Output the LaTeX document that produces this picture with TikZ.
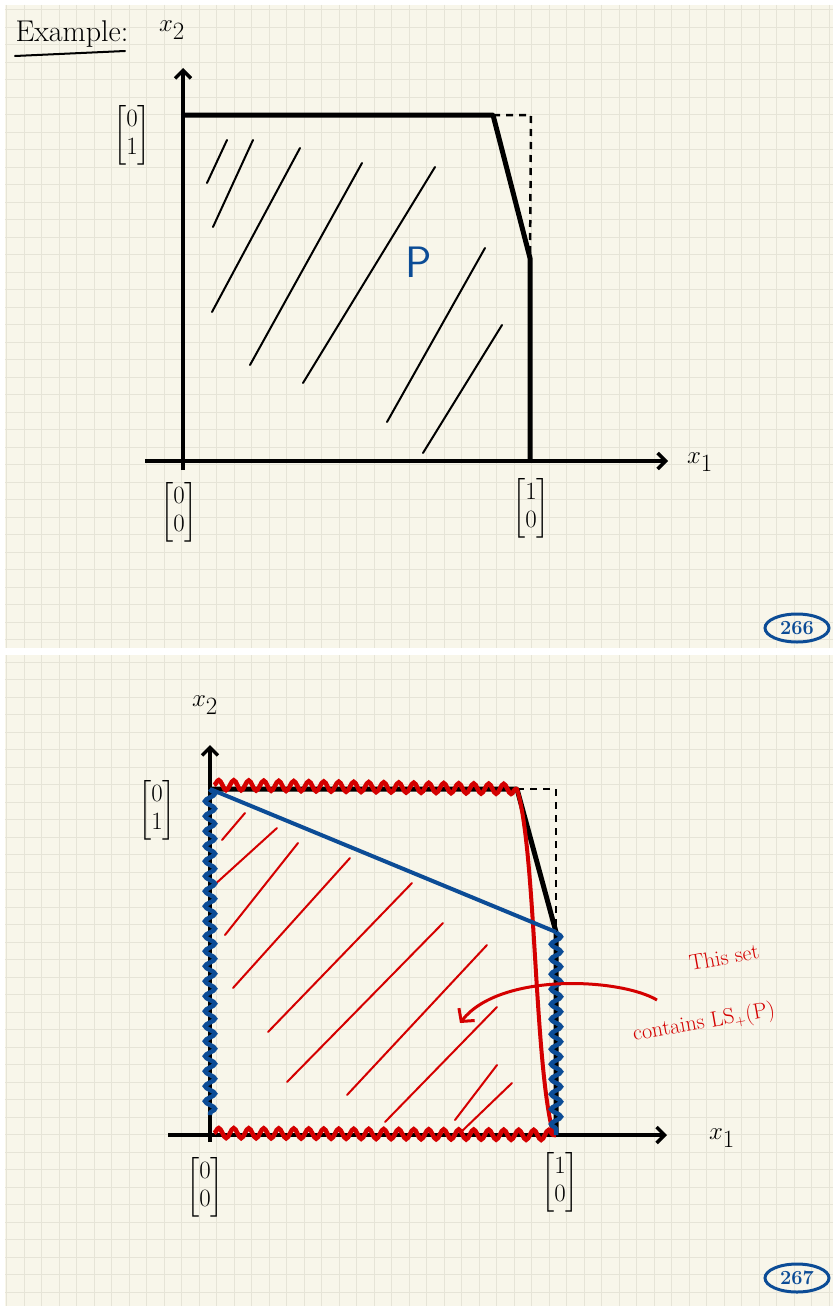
\documentclass[tikz,border=0pt]{standalone}
\usepackage{amsmath}
\usetikzlibrary{arrows.meta,decorations.pathmorphing,shapes.geometric}

\definecolor{paper}{RGB}{248,246,234}
\definecolor{gridc}{RGB}{230,228,215}
\definecolor{inkblue}{RGB}{12,76,150}
\definecolor{inkred}{RGB}{212,0,0}

\tikzset{
  axis/.style={line width=4.5pt,-{Straight Barb[length=8pt,width=16pt,line width=3.5pt]}},
  edge/.style={line width=5pt,line join=round},
  hatch/.style={line width=2pt,line cap=round},
  guide/.style={line width=2.5pt,dash pattern=on 7pt off 6pt},
  vec/.style={font=\fontsize{25}{28}\selectfont},
  axlabel/.style={font=\fontsize{36}{36}\selectfont},
  pagenum/.style={ellipse,draw=inkblue,line width=3pt,text=inkblue,minimum width=64pt,minimum height=28pt,inner sep=0pt,font=\fontsize{20}{20}\selectfont\bfseries},
  redwave/.style={inkred,line width=4.5pt,decorate,decoration={snake,amplitude=5pt,segment length=15pt}},
  bluewave/.style={inkblue,line width=4.5pt,decorate,decoration={snake,amplitude=5pt,segment length=15pt}},
  notetext/.style={text=inkred,font=\fontsize{22}{22}\selectfont,inner sep=0pt},
}

\begin{document}
\begin{tikzpicture}[x=1pt,y=-1pt]
  \useasboundingbox (0,0) rectangle (833,1306);
  % paper: two pages with a grid
  \fill[white] (0,0) rectangle (833,1306);
  \fill[paper] (5,5) rectangle (833,648);
  \fill[paper] (5,655) rectangle (833,1306);
  \begin{scope}
    \clip (5,5) rectangle (833,648);
    \foreach \i in {0,...,47} \draw[gridc,line width=0.8pt] ({6.5+17.5*\i},5) -- ({6.5+17.5*\i},648);
    \foreach \j in {0,...,37} \draw[gridc,line width=0.8pt] (5,{9.5+17.5*\j}) -- (833,{9.5+17.5*\j});
  \end{scope}
  \begin{scope}
    \clip (5,655) rectangle (833,1306);
    \foreach \i in {0,...,47} \draw[gridc,line width=0.8pt] ({6.5+17.5*\i},655) -- ({6.5+17.5*\i},1306);
    \foreach \j in {0,...,37} \draw[gridc,line width=0.8pt] (5,{662+17.5*\j}) -- (833,{662+17.5*\j});
  \end{scope}

  % ---------- page 266 ----------
  \node[anchor=base west,font=\fontsize{30}{30}\selectfont] (title) at (12,42) {Example:};
  \draw[line width=2pt,line cap=round] (15,56) coordinate (u1) -- (125,51) coordinate (u2);
  \node[axlabel] (x2a) at (172,30) {$x_2$};

  \coordinate (O1) at (183,461);
  \coordinate (A1) at (183,115);
  \coordinate (B1) at (493,115);
  \coordinate (C1) at (530,258);
  \coordinate (D1) at (530,461);
  \coordinate (E1) at (531,115);

  % hatching of P
  \draw[hatch] (207,183) -- (227,140);
  \draw[hatch] (213,227) -- (253,140);
  \draw[hatch] (212,312) -- (300,148);
  \draw[hatch] (250,365) -- (362,163);
  \draw[hatch] (303,383) -- (435,167);
  \draw[hatch] (387,422) -- (485,248);
  \draw[hatch] (423,453) -- (502,325);

  \draw[guide] (B1) -- (E1) -- (C1);
  \draw[edge] (A1) -- (B1) -- (C1) -- (D1);
  \draw[axis] (145,461) -- (668,461);
  \draw[axis] (183,470) -- (183,68);

  \node[text=inkblue,font=\fontsize{44}{44}\selectfont\sffamily] (P) at (419,262) {P};
  \node[vec] (v01a) at (132,135) {$\begin{bmatrix}0\\1\end{bmatrix}$};
  \node[vec] (v00a) at (179,512) {$\begin{bmatrix}0\\0\end{bmatrix}$};
  \node[vec] (v10a) at (531,508) {$\begin{bmatrix}1\\0\end{bmatrix}$};
  \node[axlabel] (x1a) at (700,462) {$x_1$};
  \node[pagenum] (p266) at (797,628) {266};

  % ---------- page 267 ----------
  \node[axlabel] (x2b) at (205,705) {$x_2$};

  \coordinate (O2) at (210,1135);
  \coordinate (A2) at (210,789);
  \coordinate (B2) at (517,789);
  \coordinate (C2) at (556,932);
  \coordinate (D2) at (556,1135);
  \coordinate (E2) at (556,789);

  % red hatching
  \begin{scope}[hatch,inkred]
    \draw (222,840) -- (245,813);
    \draw (212,887) -- (277,828);
    \draw (225,935) -- (298,843);
    \draw (233,988) -- (350,858);
    \draw (268,1032) -- (412,883);
    \draw (287,1082) -- (443,923);
    \draw (347,1095) -- (487,945);
    \draw (385,1122) -- (497,1007);
    \draw (455,1120) -- (497,1065);
    \draw (460,1133) -- (512,1083);
  \end{scope}

  \draw[guide] (B2) -- (E2) -- (C2);
  \draw[edge] (A2) -- (B2) -- (C2) -- (D2);
  \draw[axis] (168,1135) -- (667,1135);
  \draw[axis] (210,1142) -- (210,745);

  % the cut and the wavy faces
  \draw[inkred,line width=4pt,line cap=round] (B2) .. controls (536,850) and (534,1060) .. (553,1133);
  \draw[redwave] (214,785) -- (B2);
  \draw[redwave] (214,1133) -- (D2);
  \draw[bluewave] (A2) -- (210,1115);
  \draw[bluewave] (C2) -- (D2);
  \draw[inkblue,line width=4pt] (A2) -- (C2);

  % note
  \coordinate (n0) at (657,1000);
  \coordinate (n1) at (460,1023);
  \draw[inkred,line width=3pt,-{Straight Barb[length=9pt,width=20pt,line width=3pt]}] (n0) .. controls (620,978) and (500,972) .. (n1);
  \node[notetext,rotate=10] (note1) at (724,957) {This set};
  \node[notetext,rotate=10] (note2) at (704,1023) {contains LS$_+$(P)};

  \node[vec] (v01b) at (157,810) {$\begin{bmatrix}0\\1\end{bmatrix}$};
  \node[vec] (v00b) at (205,1187) {$\begin{bmatrix}0\\0\end{bmatrix}$};
  \node[vec] (v10b) at (560,1182) {$\begin{bmatrix}1\\0\end{bmatrix}$};
  \node[axlabel] (x1b) at (722,1138) {$x_1$};
  \node[pagenum] (p267) at (797,1278) {267};
\end{tikzpicture}
\end{document}
